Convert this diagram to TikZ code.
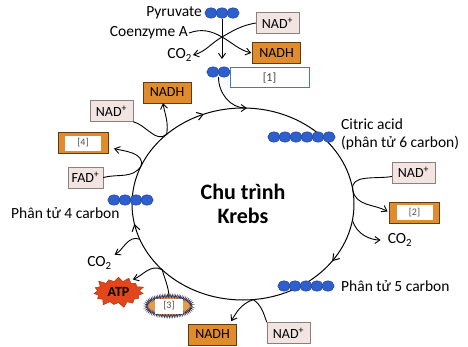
\documentclass[tikz,border=0pt]{standalone}
\usepackage{fontspec}
\setmainfont{Carlito}
\usepackage{tikz}
\usetikzlibrary{arrows.meta,calc,shapes.geometric,shapes.symbols,decorations.markings,decorations.pathmorphing}
\definecolor{KrebsBlue}{HTML}{2F5FCC}
\definecolor{KrebsBlueDark}{HTML}{1D3F9A}
\definecolor{KrebsOrange}{HTML}{E08C2C}
\definecolor{KrebsBrown}{HTML}{5E3B16}
\definecolor{KrebsPink}{HTML}{F1E4E1}
\definecolor{KrebsGrey}{HTML}{8C7F7C}
\definecolor{KrebsFrame}{HTML}{3F7BC8}
\definecolor{KrebsRed}{HTML}{E2461B}
\definecolor{KrebsNavy}{HTML}{2C2F5E}

\newcommand{\carbonchain}[4]{%
  \foreach \k in {1,...,#2}
    \filldraw[carbon] ({#3+(\k-1)*11},#4) ellipse (6.2 and 5.2);
  \coordinate (#1) at ({#3+(#2-1)*5.5},#4);
}

\begin{document}
\begin{tikzpicture}[x=1pt, y=1pt,
	font=\fontsize{15.5}{18}\selectfont,
	carbon/.style={fill=KrebsBlue, draw=KrebsBlueDark, line width=.4pt},
	flow/.style={-{Straight Barb[length=5pt,width=7pt]}, line width=.9pt},
	nadbox/.style={draw=KrebsGrey, fill=KrebsPink, minimum width=43pt, minimum height=21pt, inner sep=0pt, font=\fontsize{14}{16}\selectfont},
	nadhbox/.style={draw=KrebsBrown, fill=KrebsOrange, minimum width=48pt, minimum height=21pt, inner sep=0pt, font=\fontsize{14}{16}\selectfont},
	hiddenbox/.style={draw=KrebsBrown, fill=KrebsOrange, minimum width=50pt, minimum height=21pt, inner sep=0pt},
	blank/.style={fill=white, minimum width=36pt, minimum height=15pt, inner sep=0pt, font=\fontsize{10}{12}\selectfont, text=black!70},
	label/.style={inner sep=1pt}
]
\useasboundingbox (0,0) rectangle (468,346);

\coordinate (C) at (243,142);
\draw[line width=1pt, postaction={decorate}, decoration={markings,
	mark=at position .096 with {\arrow{Straight Barb[length=6pt,width=8pt]}},
	mark=at position .469 with {\arrow{Straight Barb[length=6pt,width=8pt]}},
	mark=at position .689 with {\arrow{Straight Barb[length=6pt,width=8pt]}}}]
	(C) ++(0:111 and 96) arc[start angle=0, end angle=-360, x radius=111, y radius=96];
\node[font=\bfseries\fontsize{22}{24}\selectfont, align=center] (krebs) at (C) {Chu trình\\Krebs};

\foreach \cname/\cang in {jtop/88, jnad/133.5, jfad/157, jco/-158.5, jatp/-136.7, jbot/-84.7, jco2/-9.6, jcit/8.4}
	\coordinate (\cname) at ($(C)+(\cang:111 and 96)$);

% top
\carbonchain{pyr}{3}{211}{333}
\node[label, anchor=east] (pyrtext) at (203,333) {Pyruvate};
\node[label, anchor=east] (coa) at (189,313) {Coenzyme A};
\node[label, anchor=east] (co2a) at (193,291) {CO\textsubscript{2}};
\node[nadbox] (nad0) at (277.5,323) {NAD\textsuperscript{+}};
\node[nadhbox] (nadh0) at (276.5,293) {NADH};
\coordinate (mid0) at (222,309);
\coordinate (down0) at (222,287);
\draw[flow] ([yshift=-6pt]pyr) -- (down0);
\draw[flow] (coa.east) to[out=20, in=150] (mid0) to[out=-30, in=165] ([xshift=-1pt]nadh0.west);
\draw[flow] (nad0.west) to[out=190, in=30] (mid0) to[out=210, in=15] (co2a.east);

\carbonchain{acetyl}{2}{213}{274}
\node[draw=KrebsFrame, fill=white, line width=.9pt, minimum width=79pt, minimum height=20pt, inner sep=0pt, font=\fontsize{12}{14}\selectfont, text=black!75] (b1) at (269.5,268.5) {[1]};
\draw[flow] ([yshift=-5pt]acetyl) to[out=-90, in=180] (jtop);

% left
\node[nadhbox] (nadh1) at (167,253.5) {NADH};
\node[nadbox] (nad1) at (111.5,235) {NAD\textsuperscript{+}};
\node[hiddenbox] (b4) at (83,203) {};
\node[blank] (b4in) at (b4) {[4]};
\node[nadbox, minimum width=35pt] (fad) at (85.5,168.5) {FAD\textsuperscript{+}};
\carbonchain{c4}{4}{114}{146}
\node[label, anchor=west] (c4text) at (10,133) {Phân tử 4 carbon};
\draw[flow] (nad1.south east) to[out=-15, in=220] (jnad) to[out=80, in=-80] ([xshift=-4pt]nadh1.south);
\draw[flow, shorten >=6pt] (fad.east) to[out=15, in=235] (jfad) to[out=70, in=-15] ([yshift=-4pt]b4.east);
\node[label] (co2b) at (99.5,83) {CO\textsubscript{2}};
\draw[flow, shorten >=2pt] (jco) to[out=160, in=30] (co2b.north east);

% bottom
\node[starburst, starburst points=15, starburst point height=6pt, fill=KrebsRed, draw=KrebsRed!70!black, inner xsep=4pt, inner ysep=3pt, font=\bfseries\fontsize{14}{16}\selectfont] (atp) at (118.5,54) {ATP};
\node[ellipse, minimum width=46pt, minimum height=20pt, fill=KrebsOrange!85!white, draw=KrebsNavy, decorate, decoration={zigzag, segment length=1.6pt, amplitude=1.8pt}] (s3) at (169,40) {};
\node[blank, minimum width=28pt, minimum height=15pt] (s3in) at (s3) {[3]};
\draw[flow, shorten >=3pt] (s3.north) to[out=95, in=-75] (jatp) to[out=150, in=20] (atp.north east);
\node[nadhbox] (nadh3) at (212.5,11.5) {NADH};
\node[nadbox] (nad3) at (288.5,13) {NAD\textsuperscript{+}};
\draw[flow, shorten >=3pt] (nad3.north west) to[out=110, in=-35] (jbot) to[out=200, in=60] ([xshift=-7pt]nadh3.north east);
\carbonchain{c5}{5}{284}{60}
\node[label, anchor=west] (c5text) at (340,60) {Phân tử 5 carbon};

% right
\carbonchain{c6}{6}{274}{209}
\node[label, anchor=west, align=left] (cit) at (340,212) {Citric acid\\(phân tử 6 carbon)};
\node[nadbox] (nad2) at (413.5,173.5) {NAD\textsuperscript{+}};
\node[hiddenbox] (b2) at (414.5,133.5) {};
\node[blank] (b2in) at (b2) {[2]};
\node[label] (co2c) at (400,106) {CO\textsubscript{2}};
\draw[flow, shorten >=2pt] ([yshift=-4pt]nad2.west) to[out=190, in=100] (jcit) to[out=-80, in=150] (b2.west);
\draw[flow, shorten >=6pt] (jco2) to[out=-75, in=180] (co2c.west);
\end{tikzpicture}
\end{document}
